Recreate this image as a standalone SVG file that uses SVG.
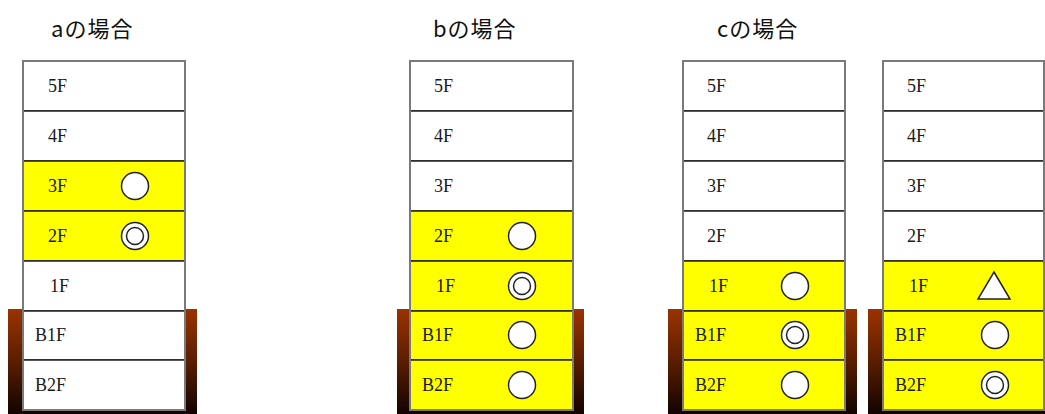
<svg xmlns="http://www.w3.org/2000/svg" width="1045" height="414" viewBox="0 0 1045 414">
<defs>
<linearGradient id="brown" x1="0" y1="0" x2="0" y2="1">
<stop offset="0" stop-color="#9a3300"/>
<stop offset="0.5" stop-color="#5a1e00"/>
<stop offset="1" stop-color="#120400"/>
</linearGradient>
<style>
.title{font-family:"Noto Sans CJK JP","Noto Sans",sans-serif;font-size:22px;letter-spacing:1px;fill:#111}
.fl{font-family:"Liberation Serif","DejaVu Serif",serif;font-size:18px;fill:#1a1a1a}
.w{fill:#fff;stroke:#222;stroke-width:1.5}
.y{fill:#ffff00;stroke:#222;stroke-width:1.5}
.outer{fill:none;stroke:#7a7a7a;stroke-width:2}
.base{fill:url(#brown)}
.mk{fill:#fff;stroke:#222;stroke-width:1.5}
</style>
</defs>
<text class="title" x="51" y="37">aの場合</text>
<text class="title" x="433" y="37">bの場合</text>
<text class="title" x="717" y="37">cの場合</text>

<g id="building-a">
<rect class="base" x="8" y="309" width="189" height="105"/>
<rect class="w" x="23" y="61" width="162" height="50"/>
<rect class="w" x="23" y="111" width="162" height="50"/>
<rect class="y" x="23" y="161" width="162" height="50"/>
<rect class="y" x="23" y="211" width="162" height="50"/>
<rect class="w" x="23" y="261" width="162" height="50"/>
<rect class="w" x="23" y="311" width="162" height="49"/>
<rect class="w" x="23" y="360" width="162" height="50"/>
<rect class="outer" x="23" y="61" width="162" height="349"/>
<text class="fl" x="48" y="92">5F</text>
<text class="fl" x="48" y="142">4F</text>
<text class="fl" x="48" y="192">3F</text>
<text class="fl" x="48" y="242">2F</text>
<text class="fl" x="50" y="292">1F</text>
<text class="fl" x="35" y="341">B1F</text>
<text class="fl" x="35" y="391">B2F</text>
<circle class="mk" cx="135" cy="186" r="13.5"/>
<circle class="mk" cx="135" cy="236" r="13.5"/>
<circle class="mk" cx="135" cy="236" r="8.5"/>
</g>

<g id="building-b">
<rect class="base" x="397" y="309" width="187" height="105"/>
<rect class="w" x="410" y="61" width="163" height="50"/>
<rect class="w" x="410" y="111" width="163" height="50"/>
<rect class="w" x="410" y="161" width="163" height="50"/>
<rect class="y" x="410" y="211" width="163" height="50"/>
<rect class="y" x="410" y="261" width="163" height="50"/>
<rect class="y" x="410" y="311" width="163" height="49"/>
<rect class="y" x="410" y="360" width="163" height="50"/>
<rect class="outer" x="410" y="61" width="163" height="349"/>
<text class="fl" x="434" y="92">5F</text>
<text class="fl" x="434" y="142">4F</text>
<text class="fl" x="434" y="192">3F</text>
<text class="fl" x="434" y="242">2F</text>
<text class="fl" x="436" y="292">1F</text>
<text class="fl" x="422" y="341">B1F</text>
<text class="fl" x="422" y="391">B2F</text>
<circle class="mk" cx="522" cy="236" r="13.5"/>
<circle class="mk" cx="522" cy="286" r="13.5"/>
<circle class="mk" cx="522" cy="286" r="8.5"/>
<circle class="mk" cx="522" cy="335" r="13.5"/>
<circle class="mk" cx="522" cy="385" r="13.5"/>
</g>

<g id="building-c1">
<rect class="base" x="668" y="309" width="189" height="105"/>
<rect class="w" x="683" y="61" width="162" height="50"/>
<rect class="w" x="683" y="111" width="162" height="50"/>
<rect class="w" x="683" y="161" width="162" height="50"/>
<rect class="w" x="683" y="211" width="162" height="50"/>
<rect class="y" x="683" y="261" width="162" height="50"/>
<rect class="y" x="683" y="311" width="162" height="49"/>
<rect class="y" x="683" y="360" width="162" height="50"/>
<rect class="outer" x="683" y="61" width="162" height="349"/>
<text class="fl" x="707" y="92">5F</text>
<text class="fl" x="707" y="142">4F</text>
<text class="fl" x="707" y="192">3F</text>
<text class="fl" x="707" y="242">2F</text>
<text class="fl" x="709" y="292">1F</text>
<text class="fl" x="695" y="341">B1F</text>
<text class="fl" x="695" y="391">B2F</text>
<circle class="mk" cx="795" cy="286" r="13.5"/>
<circle class="mk" cx="795" cy="335" r="13.5"/>
<circle class="mk" cx="795" cy="335" r="8.5"/>
<circle class="mk" cx="795" cy="385" r="13.5"/>
</g>

<g id="building-c2">
<rect class="base" x="868" y="309" width="180" height="105"/>
<rect class="w" x="883" y="61" width="161" height="50"/>
<rect class="w" x="883" y="111" width="161" height="50"/>
<rect class="w" x="883" y="161" width="161" height="50"/>
<rect class="w" x="883" y="211" width="161" height="50"/>
<rect class="y" x="883" y="261" width="161" height="50"/>
<rect class="y" x="883" y="311" width="161" height="49"/>
<rect class="y" x="883" y="360" width="161" height="50"/>
<rect class="outer" x="883" y="61" width="161" height="349"/>
<text class="fl" x="907" y="92">5F</text>
<text class="fl" x="907" y="142">4F</text>
<text class="fl" x="907" y="192">3F</text>
<text class="fl" x="907" y="242">2F</text>
<text class="fl" x="909" y="292">1F</text>
<text class="fl" x="895" y="341">B1F</text>
<text class="fl" x="895" y="391">B2F</text>
<polygon class="mk" points="994,272 1010,299 978,299"/>
<circle class="mk" cx="995" cy="335" r="13.5"/>
<circle class="mk" cx="995" cy="385" r="13.5"/>
<circle class="mk" cx="995" cy="385" r="8.5"/>
</g>
</svg>
